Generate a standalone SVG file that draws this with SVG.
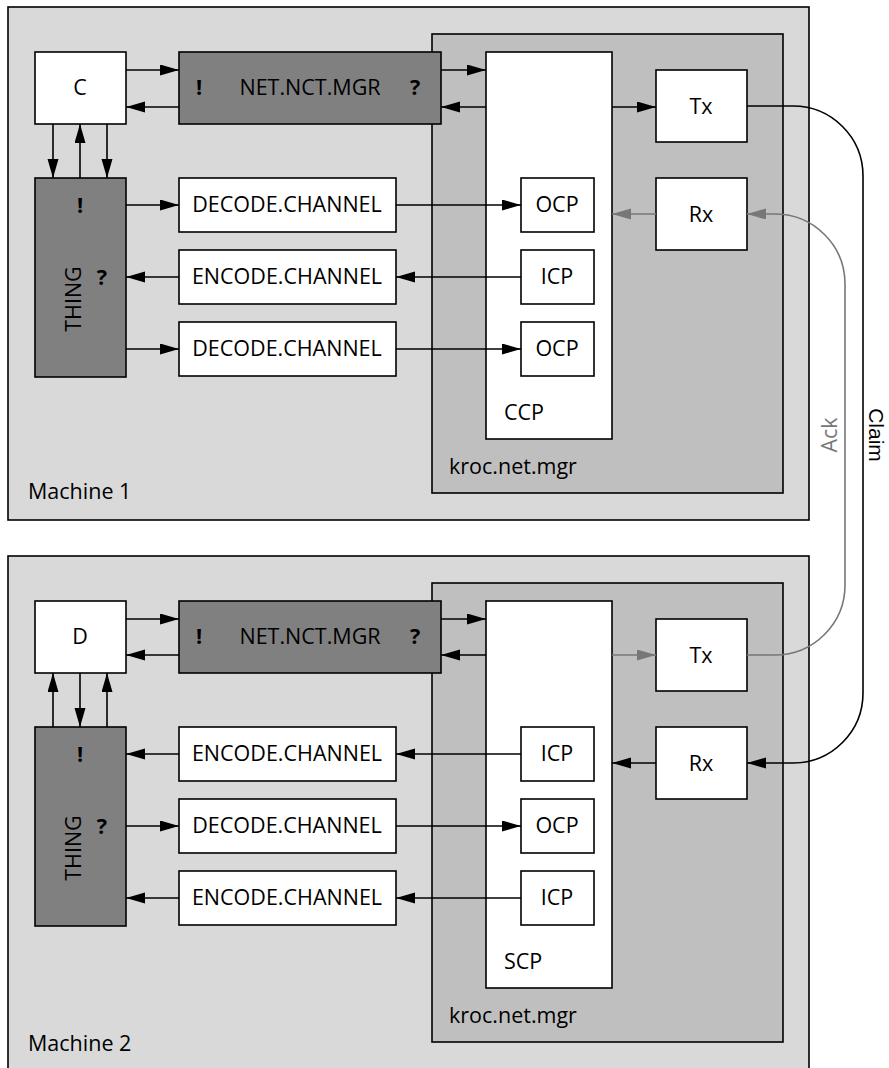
<svg xmlns="http://www.w3.org/2000/svg" width="889" height="1068" viewBox="0 0 889 1068">
<defs>
<style>
text{font-family:"Open Sans","Liberation Sans",sans-serif;font-size:21.5px;fill:#000}
.mid{text-anchor:middle}
.b{font-weight:bold}
.mach{fill:#d9d9d9;stroke:#000;stroke-width:1.6}
.kroc{fill:#bfbfbf;stroke:#000;stroke-width:1.6}
.w{fill:#fff;stroke:#000;stroke-width:1.6}
.d{fill:#808080;stroke:#000;stroke-width:1.6}
.c{fill:none;stroke:#000;stroke-width:1.6}
.g{fill:none;stroke:#777;stroke-width:1.6}
.gt{fill:#777}
.sm{font-family:"Liberation Sans",Arial,sans-serif;font-size:21px}
</style>
<marker id="a" markerUnits="userSpaceOnUse" markerWidth="21" markerHeight="12" refX="19" refY="5.5" orient="auto"><path d="M0,0 L19,5.5 L0,11 z" fill="#000"/></marker>
<marker id="ag" markerUnits="userSpaceOnUse" markerWidth="21" markerHeight="12" refX="19" refY="5.5" orient="auto"><path d="M0,0 L19,5.5 L0,11 z" fill="#777"/></marker>
</defs>

<g id="machine1">
<rect class="mach" x="8" y="7" width="801" height="513"/>
<text x="28" y="499">Machine 1</text>
</g>
<g id="kroc1">
<rect class="kroc" x="432" y="34" width="351" height="459"/>
<text x="449" y="474">kroc.net.mgr</text>
</g>
<g id="ccp">
<rect class="w" x="486" y="52" width="126" height="387"/>
<text x="504" y="420">CCP</text>
</g>
<g id="c"><rect class="w" x="35" y="52" width="91" height="72"/><text class="mid" x="80" y="95">C</text></g>
<g id="netmgr1"><rect class="d" x="179" y="52" width="262" height="72"/><text class="b" x="196" y="95">!</text><text class="mid" x="310" y="95">NET.NCT.MGR</text><text class="b" x="410" y="95">?</text></g>
<g id="thing1"><rect class="d" x="35" y="178" width="91" height="199"/><text class="b mid" x="80" y="213">!</text><text class="b mid" x="102" y="285">?</text><text class="mid" transform="translate(81,299) rotate(-90)">THING</text></g>
<g id="dec1a"><rect class="w" x="179" y="178" width="217" height="54"/><text class="mid" x="287" y="212">DECODE.CHANNEL</text></g>
<g id="enc1"><rect class="w" x="179" y="250" width="217" height="54"/><text class="mid" x="287" y="284">ENCODE.CHANNEL</text></g>
<g id="dec1b"><rect class="w" x="179" y="322" width="217" height="54"/><text class="mid" x="287" y="356">DECODE.CHANNEL</text></g>
<g id="ocp1a"><rect class="w" x="521" y="178" width="73" height="54"/><text class="mid" x="557" y="212">OCP</text></g>
<g id="icp1"><rect class="w" x="521" y="250" width="73" height="54"/><text class="mid" x="557" y="284">ICP</text></g>
<g id="ocp1b"><rect class="w" x="521" y="322" width="73" height="54"/><text class="mid" x="557" y="356">OCP</text></g>
<g id="tx1"><rect class="w" x="656" y="70" width="91" height="72"/><text class="mid" x="701" y="114">Tx</text></g>
<g id="rx1"><rect class="w" x="656" y="178" width="91" height="72"/><text class="mid" x="701" y="222">Rx</text></g>

<g id="machine2">
<rect class="mach" x="8" y="556" width="801" height="513"/>
<text x="28" y="1051">Machine 2</text>
</g>
<g id="kroc2">
<rect class="kroc" x="432" y="583" width="351" height="459"/>
<text x="449" y="1023">kroc.net.mgr</text>
</g>
<g id="scp">
<rect class="w" x="486" y="601" width="126" height="387"/>
<text x="504" y="969">SCP</text>
</g>
<g id="d"><rect class="w" x="35" y="601" width="91" height="72"/><text class="mid" x="80" y="644">D</text></g>
<g id="netmgr2"><rect class="d" x="179" y="601" width="262" height="72"/><text class="b" x="196" y="644">!</text><text class="mid" x="310" y="644">NET.NCT.MGR</text><text class="b" x="410" y="644">?</text></g>
<g id="thing2"><rect class="d" x="35" y="727" width="91" height="199"/><text class="b mid" x="80" y="762">!</text><text class="b mid" x="102" y="834">?</text><text class="mid" transform="translate(81,848) rotate(-90)">THING</text></g>
<g id="enc2a"><rect class="w" x="179" y="727" width="217" height="54"/><text class="mid" x="287" y="761">ENCODE.CHANNEL</text></g>
<g id="dec2"><rect class="w" x="179" y="799" width="217" height="54"/><text class="mid" x="287" y="833">DECODE.CHANNEL</text></g>
<g id="enc2b"><rect class="w" x="179" y="871" width="217" height="54"/><text class="mid" x="287" y="905">ENCODE.CHANNEL</text></g>
<g id="icp2a"><rect class="w" x="521" y="727" width="73" height="54"/><text class="mid" x="557" y="761">ICP</text></g>
<g id="ocp2"><rect class="w" x="521" y="799" width="73" height="54"/><text class="mid" x="557" y="833">OCP</text></g>
<g id="icp2b"><rect class="w" x="521" y="871" width="73" height="54"/><text class="mid" x="557" y="905">ICP</text></g>
<g id="tx2"><rect class="w" x="656" y="619" width="91" height="72"/><text class="mid" x="701" y="663">Tx</text></g>
<g id="rx2"><rect class="w" x="656" y="727" width="91" height="72"/><text class="mid" x="701" y="771">Rx</text></g>

<g id="connectors">
<path class="c" marker-end="url(#a)" d="M126,70 H179"/>
<path class="c" marker-end="url(#a)" d="M179,107 H126"/>
<path class="c" marker-end="url(#a)" d="M441,70 H486"/>
<path class="c" marker-end="url(#a)" d="M486,107 H441"/>
<path class="c" marker-end="url(#a)" d="M612,107 H656"/>
<path class="g" marker-end="url(#ag)" d="M656,214 H612"/>
<path class="c" marker-end="url(#a)" d="M53,124 V178"/>
<path class="c" marker-end="url(#a)" d="M80,178 V124"/>
<path class="c" marker-end="url(#a)" d="M107,124 V178"/>
<path class="c" marker-end="url(#a)" d="M126,205 H179"/>
<path class="c" marker-end="url(#a)" d="M396,205 H521"/>
<path class="c" marker-end="url(#a)" d="M521,277 H396"/>
<path class="c" marker-end="url(#a)" d="M179,277 H126"/>
<path class="c" marker-end="url(#a)" d="M126,349 H179"/>
<path class="c" marker-end="url(#a)" d="M396,349 H521"/>

<path class="c" marker-end="url(#a)" d="M126,619 H179"/>
<path class="c" marker-end="url(#a)" d="M179,655 H126"/>
<path class="c" marker-end="url(#a)" d="M441,619 H486"/>
<path class="c" marker-end="url(#a)" d="M486,655 H441"/>
<path class="g" marker-end="url(#ag)" d="M612,655 H656"/>
<path class="c" marker-end="url(#a)" d="M656,763 H612"/>
<path class="c" marker-end="url(#a)" d="M53,727 V673"/>
<path class="c" marker-end="url(#a)" d="M80,673 V727"/>
<path class="c" marker-end="url(#a)" d="M107,727 V673"/>
<path class="c" marker-end="url(#a)" d="M521,754 H396"/>
<path class="c" marker-end="url(#a)" d="M179,754 H126"/>
<path class="c" marker-end="url(#a)" d="M126,826 H179"/>
<path class="c" marker-end="url(#a)" d="M396,826 H521"/>
<path class="c" marker-end="url(#a)" d="M521,898 H396"/>
<path class="c" marker-end="url(#a)" d="M179,898 H126"/>

<path class="c" marker-end="url(#a)" d="M747,106 H793 A70,70 0 0 1 863,176 V693 A70,70 0 0 1 793,763 H747"/>
<path class="g" marker-end="url(#ag)" d="M747,655 H775 A70,70 0 0 0 845,585 V284 A70,70 0 0 0 775,214 H747"/>
<text class="gt mid" transform="translate(837,435) rotate(-90)">Ack</text>
<text class="mid sm" transform="translate(869,435) rotate(90)">Claim</text>
</g>
</svg>
